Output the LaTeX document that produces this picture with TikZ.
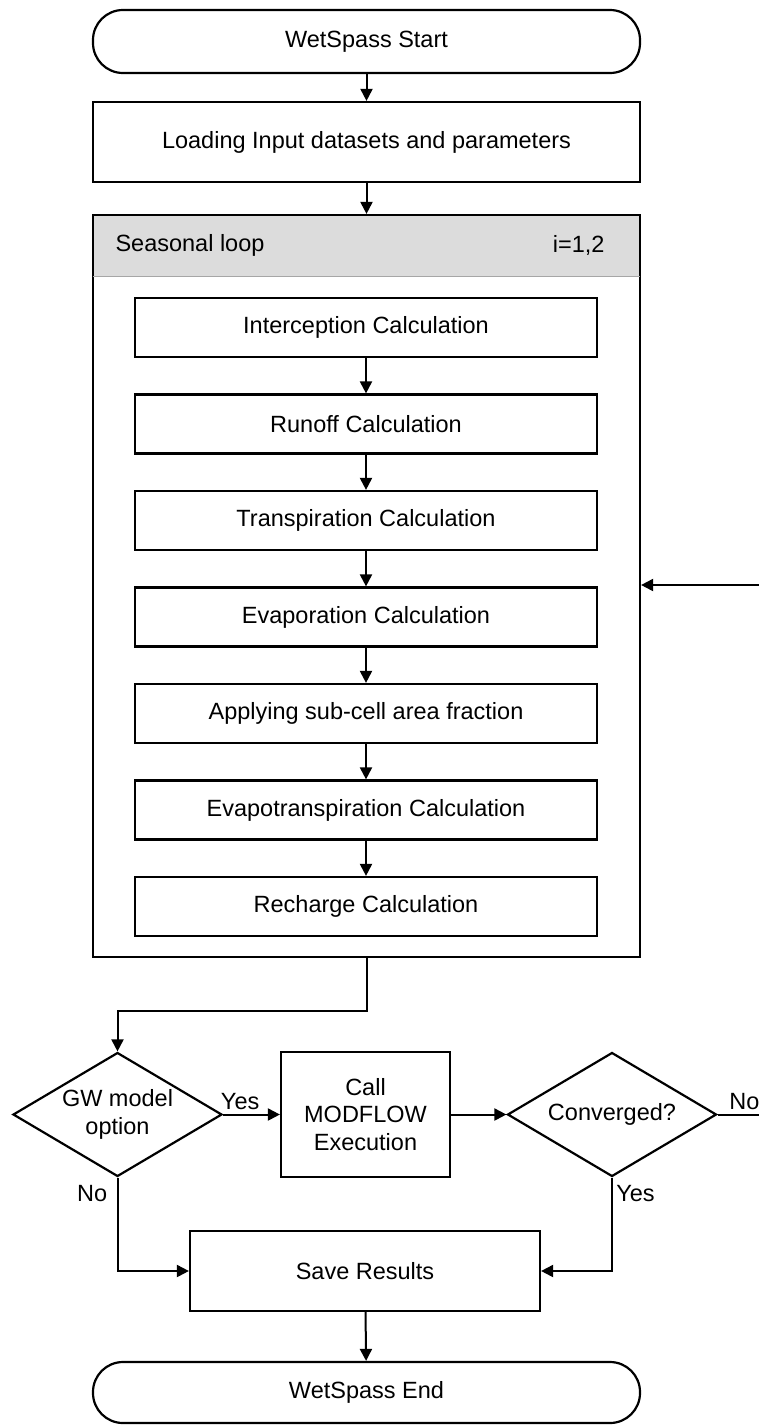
\documentclass[tikz,border=0pt]{standalone}
\usepackage{fontspec}
\setmainfont{Liberation Sans}
\usetikzlibrary{arrows.meta,shapes.geometric}
\definecolor{hdrgray}{HTML}{DCDCDC}

\begin{document}
\begin{tikzpicture}[
  x=1pt, y=-1pt,
  outline/.style={line width=2.2pt},
  link/.style={line width=2pt, -{Triangle[length=12pt,width=12pt]}},
  plain/.style={line width=2pt},
  lbl/.style={font=\fontsize{23.5}{27.5}\selectfont},
  term/.style={outline, draw, rounded corners=30pt, minimum width=547pt, inner sep=0pt, lbl},
  box/.style={outline, draw, fill=white, minimum width=547pt, minimum height=80pt, inner sep=0pt, lbl},
  calc/.style={outline, draw, fill=white, minimum width=462pt, minimum height=59pt, inner sep=0pt, lbl},
  choice/.style={outline, draw, diamond, aspect=1.69, minimum width=209pt, minimum height=124pt, inner sep=0pt, lbl, align=center},
  hdr/.style={fill=hdrgray, minimum width=547pt, minimum height=61pt, inner sep=0pt},
]
\useasboundingbox (0,0) rectangle (759,1425);

% ── start and input ───────────────────────────────────────────────────────
\node[term, minimum height=63pt] (start) at (366.5,41.5) {WetSpass Start};
\node[box] (load) at (366.5,142) {Loading Input datasets and parameters};

% ── the seasonal loop frame with its grey header ──────────────────────────
\node[hdr] (head) at (366.5,245.5) {};
\node[outline, draw, minimum width=547pt, minimum height=742pt, inner sep=0pt] (loop) at (366.5,586) {};
\draw[line width=0.6pt, gray!70] (head.south west) -- (head.south east);
\node[lbl, anchor=west] (loopname) at (112,245.5) {Seasonal loop};
\node[lbl, anchor=east] (loopidx) at (608,245.5) {i=1,2};

% ── the calculation steps inside the loop ─────────────────────────────────
\node[calc] (icpt) at (366,327.5) {Interception Calculation};
\node[calc] (roff) at (366,424) {Runoff Calculation};
\node[calc] (trsp) at (366,520.5) {Transpiration Calculation};
\node[calc] (evap) at (366,617) {Evaporation Calculation};
\node[calc] (frac) at (366,713.5) {Applying sub-cell area fraction};
\node[calc] (evtr) at (366,810) {Evapotranspiration Calculation};
\node[calc] (rech) at (366,906.5) {Recharge Calculation};

% ── groundwater coupling and the end ──────────────────────────────────────
\node[choice] (gw) at (117.5,1114.5) {GW model\\option};
\node[outline, draw, minimum width=169pt, minimum height=125pt, inner sep=0pt, lbl, align=center] (mod) at (365.5,1114.5) {Call\\MODFLOW\\Execution};
\node[choice] (conv) at (612,1114.5) {Converged?};
\node[box, minimum width=350pt] (save) at (365,1271) {Save Results};
\node[term, minimum height=61pt] (stop) at (366.5,1392.5) {WetSpass End};

\coordinate (noout) at (759,1114.5);   % the way back leaves the page here
\coordinate (backin) at (759,585);     % and comes in again here

% ── connectors ────────────────────────────────────────────────────────────
\draw[link] (start) -- (load);
\draw[link] (load) -- (loop);
\draw[link] (icpt) -- (roff);
\draw[link] (roff) -- (trsp);
\draw[link] (trsp) -- (evap);
\draw[link] (evap) -- (frac);
\draw[link] (frac) -- (evtr);
\draw[link] (evtr) -- (rech);
\draw[link] (loop.south) -- ++(0,53) -| (gw.north);
\draw[link] (gw) -- node[lbl, above, pos=0.3] {Yes} (mod);
\draw[link] (mod) -- (conv);
\draw[plain] (conv.east) -- node[lbl, above, pos=0.65] {No} (noout);
\draw[link] (backin) -- (loop.east |- backin);
\draw[link] (gw.south) |- node[lbl, left, pos=0.085, xshift=-6pt] {No} (save.west);
\draw[link] (conv.south) |- node[lbl, right, pos=0.085] {Yes} (save.east);
\draw[link] (save) -- (stop);

\end{tikzpicture}
\end{document}
